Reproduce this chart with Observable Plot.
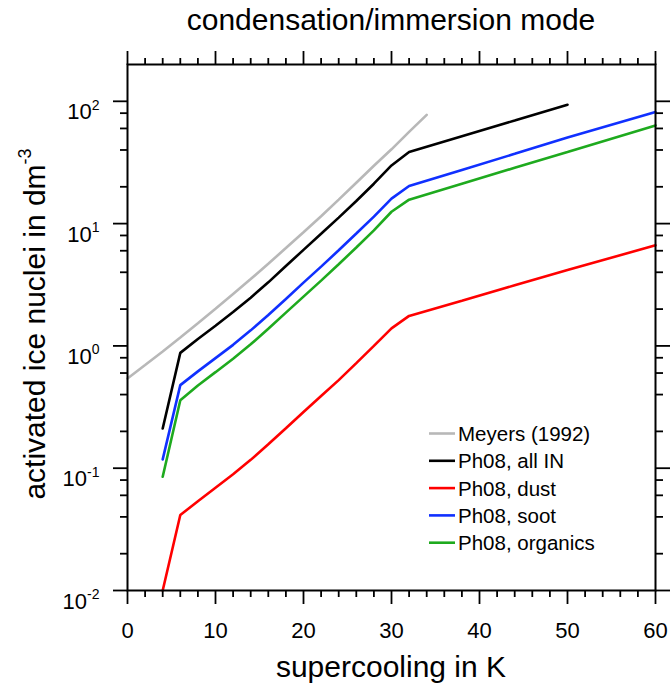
<!DOCTYPE html>
<html><head><meta charset="utf-8">
<script src="https://cdn.jsdelivr.net/npm/d3@7"></script>
<script src="https://cdn.jsdelivr.net/npm/@observablehq/plot@0.6"></script>
<style>body{margin:0;background:#fff} svg{display:block}</style>
</head><body><div id="chart"></div>
<script>
// ---- data ----
const titleText = "condensation/immersion mode";
const xLabelText = "supercooling in K";
const yLabelText = "activated ice nuclei in dm";
const yLabelExp = "-3";

const xTicks = [0, 10, 20, 30, 40, 50, 60];
const xMinorTicks = [2,4,6,8,12,14,16,18,22,24,26,28,32,34,36,38,42,44,46,48,52,54,56,58];
const yTicks = [0.01, 0.1, 1, 10, 100];
const yTickExps = ["-2", "-1", "0", "1", "2"];
const yMinorTicks = [0.02,0.04,0.06,0.08,0.2,0.4,0.6,0.8,2,4,6,8,20,40,60,80];

const seriesNames = ["Meyers (1992)", "Ph08, all IN", "Ph08, dust", "Ph08, soot", "Ph08, organics"];
const seriesColors = ["#b8b8b8", "#000000", "#ff0000", "#1030ff", "#1eaa1e"];

const meyersX = [0,2,4,6,8,10,12,14,16,18,20,22,24,26,28,30,32,34];
const meyersN = [0.542,0.697,0.901,1.17,1.53,2.01,2.66,3.52,4.70,6.31,8.51,11.5,15.7,21.6,29.7,40.5,56.2,77.5];

const allINX = [4,6,8,10,12,14,16,18,20,22,24,26,28,30,32,38,44,50];
const allIN  = [0.211,0.877,1.14,1.46,1.89,2.48,3.31,4.50,6.10,8.25,11.2,15.3,21.2,29.9,38.5,51.8,69.7,93.8];

const ph08X    = [4,6,8,10,12,14,16,18,20,22,24,26,28,30,32,38,44,50,60];
const dust     = [0.0100,0.0414,0.0537,0.0692,0.0891,0.117,0.157,0.212,0.288,0.389,0.525,0.724,1.00,1.39,1.76,2.34,3.13,4.17,6.65];
const soot     = [0.118,0.478,0.619,0.795,1.02,1.34,1.79,2.42,3.29,4.45,6.05,8.30,11.4,16.0,20.3,27.5,37.2,50.5,81.7];
const organics = [0.0851,0.360,0.475,0.610,0.785,1.03,1.38,1.87,2.53,3.42,4.65,6.38,8.80,12.5,15.7,21.2,28.6,38.5,63.5];

// ---- build table ----
const rows = [];
function add(name, xs, ys) { xs.forEach((x, i) => rows.push({series: name, x, n: ys[i]})); }
add(seriesNames[0], meyersX, meyersN);
add(seriesNames[1], allINX, allIN);
add(seriesNames[2], ph08X, dust);
add(seriesNames[3], ph08X, soot);
add(seriesNames[4], ph08X, organics);

const W = 670, H = 686;
const font = "'Liberation Sans', Arial, Helvetica, sans-serif";
const tickW = 1.8;

const svgNode = Plot.plot({
  width: W, height: H,
  marginLeft: 127, marginRight: 15, marginTop: 64, marginBottom: 96,
  style: {fontFamily: font, fontSize: "22px", background: "white", color: "black"},
  x: {domain: [0, 60], label: null},
  y: {type: "log", domain: [0.01, 200], label: null},
  color: {domain: seriesNames, range: seriesColors},
  marks: [
    Plot.line(rows, {x: "x", y: "n", z: "series", stroke: "series", strokeWidth: 2.6, strokeLinejoin: "miter"}),
    Plot.axisX(xTicks, {anchor: "bottom", tickSize: 14, tickPadding: 18, strokeWidth: tickW, fontSize: 22, tickFormat: d => String(d), label: null}),
    Plot.axisX(xMinorTicks, {anchor: "bottom", tickSize: 7, strokeWidth: tickW, tickFormat: () => "", label: null}),
    Plot.axisX(xTicks, {anchor: "top", tickSize: 14, strokeWidth: tickW, tickFormat: () => "", label: null}),
    Plot.axisX(xMinorTicks, {anchor: "top", tickSize: 7, strokeWidth: tickW, tickFormat: () => "", label: null}),
    Plot.axisY(yTicks, {anchor: "left", tickSize: 14, tickPadding: 14, strokeWidth: tickW, fontSize: 22,
      tickFormat: d => "10^" + yTickExps[yTicks.indexOf(d)], label: null}),
    Plot.axisY(yMinorTicks, {anchor: "left", tickSize: 7, strokeWidth: tickW, tickFormat: () => "", label: null}),
    Plot.axisY(yTicks, {anchor: "right", tickSize: 14, strokeWidth: tickW, tickFormat: () => "", label: null}),
    Plot.axisY(yMinorTicks, {anchor: "right", tickSize: 7, strokeWidth: tickW, tickFormat: () => "", label: null}),
    Plot.frame({stroke: "black", strokeWidth: 2})
  ]
});
document.getElementById("chart").appendChild(svgNode);

const svg = d3.select(svgNode);

// superscripts on y tick labels
svg.selectAll("text").each(function() {
  const t = this.textContent;
  if (t.includes("^")) {
    const [base, exp] = t.split("^");
    const sel = d3.select(this);
    sel.attr("dy", "0.5em");
    sel.text(base);
    sel.append("tspan").attr("dy", -9.5).attr("font-size", 14).text(exp);
  }
});

// title
svg.append("text").attr("x", 391).attr("y", 30).attr("text-anchor", "middle")
  .attr("font-family", font).attr("font-size", 30).attr("fill", "black").text(titleText);
// x label
svg.append("text").attr("x", 391).attr("y", 677).attr("text-anchor", "middle")
  .attr("font-family", font).attr("font-size", 30).attr("fill", "black").text(xLabelText);
// y label
const yl = svg.append("text").attr("transform", "translate(45,324) rotate(-90)").attr("text-anchor", "middle")
  .attr("font-family", font).attr("font-size", 30).attr("fill", "black").text(yLabelText);
yl.append("tspan").attr("dy", -14).attr("font-size", 18).text(yLabelExp);

// legend
const lg = svg.append("g").attr("font-family", font).attr("font-size", 20.5).attr("text-anchor", "start");
seriesNames.forEach((name, i) => {
  const y = 433.5 + i * 27.3;
  lg.append("line").attr("x1", 429).attr("x2", 455).attr("y1", y).attr("y2", y)
    .attr("stroke", seriesColors[i]).attr("stroke-width", 2.6);
  lg.append("text").attr("x", 458).attr("y", y + 7.4).attr("text-anchor", "start").attr("fill", "black").text(name);
});
</script>
</body></html>
